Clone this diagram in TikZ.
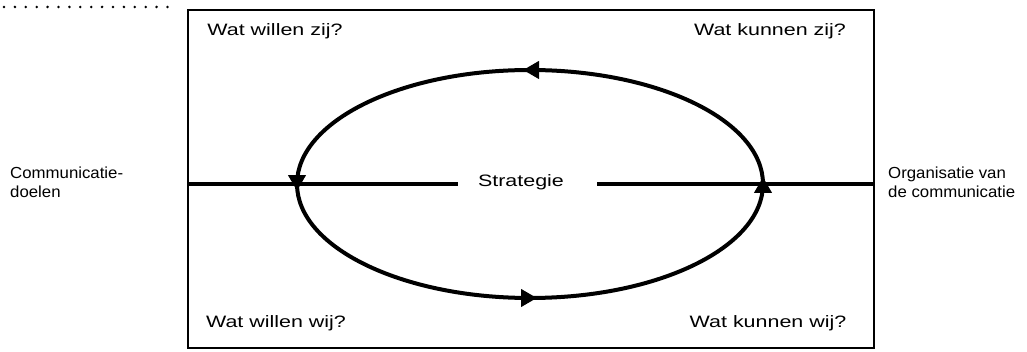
\documentclass[tikz,border=0pt]{standalone}
\usepackage{fontspec}
\setmainfont{Liberation Sans}
\newfontfamily\handW[FakeStretch=1.3]{Liberation Sans}
\newfontfamily\handN[FakeStretch=1.05]{Liberation Sans}
\usetikzlibrary{arrows.meta,decorations.markings}
\tikzset{loopTip/.tip={Triangle[length=16pt,width=17pt]}}
\begin{document}
\begin{tikzpicture}[x=1pt,y=-1pt,
  quad/.style={font=\handW\fontsize{16.5}{19}\selectfont, inner sep=0pt},
  side/.style={font=\handN\fontsize{16}{19}\selectfont, inner sep=0pt, align=left},
  frm/.style={draw, line width=1.6pt, inner sep=0pt},
  axisline/.style={line width=3.6pt},
  dotline/.style={line width=2.8pt, line cap=round, dash pattern=on 0pt off 10.9pt},
  loopline/.style={line width=4pt, postaction={decorate},
    decoration={markings,
      mark=at position 0 with {\arrow[xshift=7pt]{loopTip}},
      mark=at position 0.25 with {\arrow[xshift=7pt]{loopTip}},
      mark=at position 0.5 with {\arrow[xshift=7pt]{loopTip}},
      mark=at position 0.75 with {\arrow[xshift=7pt]{loopTip}}}}]
\useasboundingbox (0,0) rectangle (1027,352);
% frame
\node[frm, minimum width=686pt, minimum height=338pt, anchor=north west] (frame) at (187,9) {};
% dotted line
\coordinate (d1) at (4,7);
\coordinate (d2) at (168,7);
\draw[dotline] (d1) -- (d2);
% centre label and axis
\node[quad, anchor=base] (strat) at (521,187) {Strategie};
\coordinate (gapL) at (458,184);
\coordinate (gapR) at (597,184);
\draw[axisline] (frame.west |- gapL) -- (gapL);
\draw[axisline] (gapR) -- (frame.east |- gapR);
% loop
\coordinate (ellc) at (530,184);
\draw[loopline] (ellc) ++(0,114) arc[start angle=90, end angle=-270, x radius=233, y radius=114];
% quadrant labels
\node[quad, anchor=base] (wzij) at (275,36) {Wat willen zij?};
\node[quad, anchor=base] (kzij) at (770,36) {Wat kunnen zij?};
\node[quad, anchor=base] (wwij) at (276,327) {Wat willen wij?};
\node[quad, anchor=base] (kwij) at (768,327) {Wat kunnen wij?};
% side labels
\node[side, anchor=west] (doel) at (10,182) {Communicatie-\\doelen};
\node[side, anchor=west] (org) at (888,182) {Organisatie van\\de communicatie};
\end{tikzpicture}
\end{document}
